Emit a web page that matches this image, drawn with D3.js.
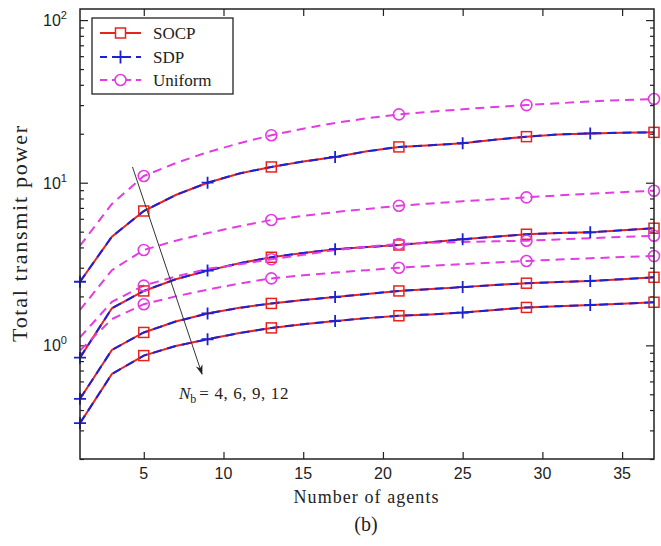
<!DOCTYPE html>
<html>
<head>
<meta charset="utf-8">
<script src="https://cdn.jsdelivr.net/npm/d3@7"></script>
<style>
  html, body { margin: 0; padding: 0; background: #fff; }
  svg { display: block; }
</style>
</head>
<body>
<script>
// ---------------- data ----------------
const agents = [1, 3, 5, 7, 9, 11, 13, 15, 17, 19, 21, 23, 25, 27, 29, 31, 33, 35, 37];
const nbLabels = ["Nb=4", "Nb=6", "Nb=9", "Nb=12"];

const socpNb4  = [2.46, 4.66, 6.7, 8.4, 10.0, 11.4, 12.5, 13.5, 14.4, 15.6, 16.6, 17.0, 17.5, 18.4, 19.2, 19.8, 20.1, 20.3, 20.4];
const socpNb6  = [0.84, 1.69, 2.16, 2.55, 2.88, 3.2, 3.48, 3.7, 3.90, 4.02, 4.14, 4.3, 4.49, 4.65, 4.82, 4.9, 4.95, 5.1, 5.25];
const socpNb9  = [0.469, 0.937, 1.20, 1.40, 1.57, 1.70, 1.81, 1.90, 1.98, 2.07, 2.16, 2.22, 2.28, 2.35, 2.41, 2.45, 2.49, 2.55, 2.62];
const socpNb12 = [0.332, 0.667, 0.865, 0.99, 1.09, 1.19, 1.28, 1.35, 1.41, 1.47, 1.52, 1.55, 1.59, 1.65, 1.71, 1.74, 1.77, 1.80, 1.84];

const sdpNb4  = [2.46, 4.66, 6.7, 8.4, 10.0, 11.4, 12.5, 13.5, 14.4, 15.6, 16.6, 17.0, 17.5, 18.4, 19.2, 19.8, 20.1, 20.3, 20.4];
const sdpNb6  = [0.84, 1.69, 2.16, 2.55, 2.88, 3.2, 3.48, 3.7, 3.90, 4.02, 4.14, 4.3, 4.49, 4.65, 4.82, 4.9, 4.95, 5.1, 5.25];
const sdpNb9  = [0.469, 0.937, 1.20, 1.40, 1.57, 1.70, 1.81, 1.90, 1.98, 2.07, 2.16, 2.22, 2.28, 2.35, 2.41, 2.45, 2.49, 2.55, 2.62];
const sdpNb12 = [0.332, 0.667, 0.865, 0.99, 1.09, 1.19, 1.28, 1.35, 1.41, 1.47, 1.52, 1.55, 1.59, 1.65, 1.71, 1.74, 1.77, 1.80, 1.84];

const uniNb4  = [4.1, 7.4, 11.0, 13.2, 15.4, 17.5, 19.6, 21.5, 23.3, 24.9, 26.3, 27.3, 28.3, 29.2, 30.0, 30.8, 31.6, 32.2, 32.7];
const uniNb6  = [1.65, 2.9, 3.86, 4.4, 4.9, 5.4, 5.90, 6.25, 6.6, 6.9, 7.22, 7.45, 7.7, 7.9, 8.13, 8.35, 8.55, 8.75, 8.93];
const uniNb9  = [1.12, 1.85, 2.33, 2.65, 2.95, 3.15, 3.38, 3.6, 3.85, 4.05, 4.20, 4.27, 4.32, 4.36, 4.40, 4.48, 4.56, 4.64, 4.72];
const uniNb12 = [0.93, 1.45, 1.79, 2.0, 2.2, 2.4, 2.58, 2.7, 2.8, 2.9, 3.00, 3.08, 3.16, 3.23, 3.30, 3.37, 3.43, 3.49, 3.54];

const xTicks = [5, 10, 15, 20, 25, 30, 35];
const yMajorTicks = [1, 10, 100];
const yTickExponents = ["0", "1", "2"];
const legendNames = ["SOCP", "SDP", "Uniform"];
const xLabel = "Number of agents";
const yLabel = "Total transmit power";
const caption = "(b)";

// marker positions (x values where markers are drawn)
const socpMarkerX = [5, 13, 21, 29, 37];
const sdpMarkerX = [1, 9, 17, 25, 33];
const uniMarkerX = [5, 13, 21, 29, 37];

// ---------------- layout ----------------
const W = 661, H = 546;
const L = 80, R = 654, T = 9, B = 459;
const RED = "#e8231e", BLUE = "#1a22d6", MAG = "#e23ce2";

const svg = d3.select("body").append("svg").attr("width", W).attr("height", H)
  .style("font-family", "'Liberation Serif', 'DejaVu Serif', serif");

const x = d3.scaleLinear().domain([1, 37]).range([L, R]);
const y = d3.scaleLog().domain([0.2, 117]).range([B, T]);

// minor ticks
const yMinor = [];
[0.1, 1, 10].forEach(d => { for (let k = 2; k <= 9; k++) { const v = d * k; if (v >= 0.2 && v <= 117) yMinor.push(v); } });

// axes ticks (inward)
function styleAxis(g) {
  g.select(".domain").remove();
  g.selectAll("line").attr("stroke", "#222").attr("stroke-width", 1.2);
  g.selectAll("text").remove();
}
svg.append("g").attr("transform", `translate(0,${B})`).call(d3.axisBottom(x).tickValues(xTicks).tickSize(-7)).call(styleAxis);
svg.append("g").attr("transform", `translate(0,${T})`).call(d3.axisTop(x).tickValues(xTicks).tickSize(-7)).call(styleAxis);
svg.append("g").attr("transform", `translate(${L},0)`).call(d3.axisLeft(y).tickValues(yMajorTicks).tickSize(-8)).call(styleAxis);
svg.append("g").attr("transform", `translate(${R},0)`).call(d3.axisRight(y).tickValues(yMajorTicks).tickSize(-8)).call(styleAxis);
svg.append("g").attr("transform", `translate(${L},0)`).call(d3.axisLeft(y).tickValues(yMinor).tickSize(-4)).call(styleAxis);
svg.append("g").attr("transform", `translate(${R},0)`).call(d3.axisRight(y).tickValues(yMinor).tickSize(-4)).call(styleAxis);

// tick labels
svg.append("g").selectAll("text").data(xTicks).join("text")
  .attr("x", d => x(d)).attr("y", B + 20)
  .attr("text-anchor", "middle")
  .style("font-family", "'Liberation Sans', Arial, sans-serif").style("font-size", "16px").attr("fill", "#222")
  .text(d => d);

const yl = svg.append("g").selectAll("text").data(yMajorTicks).join("text")
  .attr("x", 43).attr("y", d => y(d) + 6)
  .attr("text-anchor", "start")
  .style("font-family", "'Liberation Sans', Arial, sans-serif").style("font-size", "16px").attr("fill", "#222");
yl.append("tspan").text("10");
yl.append("tspan").attr("dy", -7).style("font-size", "11px").text((d, i) => yTickExponents[i]);

// clip
svg.append("clipPath").attr("id", "clip").append("rect").attr("x", L).attr("y", T).attr("width", R - L).attr("height", B - T);
const plot = svg.append("g").attr("clip-path", "url(#clip)");

const line = d3.line().x((d, i) => x(agents[i])).y(d => y(d));

const socp = [socpNb4, socpNb6, socpNb9, socpNb12];
const sdp = [sdpNb4, sdpNb6, sdpNb9, sdpNb12];
const uni = [uniNb4, uniNb6, uniNb9, uniNb12];

function markersFor(arr, mx) {
  return mx.map(v => ({ x: v, y: arr[agents.indexOf(v)] }));
}

// SOCP
socp.forEach(s => {
  plot.append("path").datum(s).attr("d", line).attr("fill", "none").attr("stroke", RED).attr("stroke-width", 2);
});
// SDP
sdp.forEach(s => {
  plot.append("path").datum(s).attr("d", line).attr("fill", "none").attr("stroke", BLUE).attr("stroke-width", 2).attr("stroke-dasharray", "9,6");
});
// Uniform
uni.forEach(s => {
  plot.append("path").datum(s).attr("d", line).attr("fill", "none").attr("stroke", MAG).attr("stroke-width", 2).attr("stroke-dasharray", "9,6");
});

// markers
const mk = svg.append("g");
socp.forEach(s => {
  mk.selectAll(null).data(markersFor(s, socpMarkerX)).join("rect")
    .attr("x", d => x(d.x) - 5).attr("y", d => y(d.y) - 5).attr("width", 10).attr("height", 10)
    .attr("fill", "none").attr("stroke", RED).attr("stroke-width", 1.5);
});
sdp.forEach(s => {
  mk.selectAll(null).data(markersFor(s, sdpMarkerX)).join("path")
    .attr("d", d => `M${x(d.x) - 6},${y(d.y)}H${x(d.x) + 6}M${x(d.x)},${y(d.y) - 6}V${y(d.y) + 6}`)
    .attr("stroke", BLUE).attr("stroke-width", 1.8);
});
uni.forEach(s => {
  mk.selectAll(null).data(markersFor(s, uniMarkerX)).join("circle")
    .attr("cx", d => x(d.x)).attr("cy", d => y(d.y)).attr("r", 5.5)
    .attr("fill", "none").attr("stroke", MAG).attr("stroke-width", 1.6);
});

// frame
svg.append("rect").attr("x", L).attr("y", T).attr("width", R - L).attr("height", B - T)
  .attr("fill", "none").attr("stroke", "#222").attr("stroke-width", 1.5);

// arrow annotation
svg.append("defs").append("marker").attr("id", "arrow").attr("viewBox", "0 0 10 10")
  .attr("refX", 9).attr("refY", 5).attr("markerWidth", 10).attr("markerHeight", 10).attr("orient", "auto")
  .append("path").attr("d", "M0,1.5 L10,5 L0,8.5 L3,5 Z").attr("fill", "#222");
svg.append("line").attr("x1", 132.5).attr("y1", 167).attr("x2", 202).attr("y2", 374)
  .attr("stroke", "#333").attr("stroke-width", 1).attr("marker-end", "url(#arrow)");

const ann = svg.append("text").attr("x", 179).attr("y", 399).style("font-size", "17px").attr("fill", "#222");
ann.append("tspan").style("font-style", "italic").text("N");
ann.append("tspan").attr("dy", 4).style("font-size", "12px").text("b");
ann.append("tspan").attr("dy", -4).attr("dx", 3).style("letter-spacing", "0.6px").text("= 4, 6, 9, 12");

// legend
const lg = svg.append("g");
lg.append("rect").attr("x", 92).attr("y", 18).attr("width", 141).attr("height", 76)
  .attr("fill", "#fff").attr("stroke", "#222").attr("stroke-width", 1.3);
const legRows = [33, 57, 80];
const legCols = [RED, BLUE, MAG];
const legDash = [null, "7,5", "7,5"];
legendNames.forEach((n, i) => {
  const yy = legRows[i];
  lg.append("line").attr("x1", 100).attr("x2", 141).attr("y1", yy).attr("y2", yy)
    .attr("stroke", legCols[i]).attr("stroke-width", 2).attr("stroke-dasharray", legDash[i]);
  if (i === 0) lg.append("rect").attr("x", 115.5).attr("y", yy - 5).attr("width", 10).attr("height", 10).attr("fill", "#fff").attr("stroke", RED).attr("stroke-width", 1.5);
  if (i === 1) lg.append("path").attr("d", `M114,${yy}H127M120.5,${yy - 6.5}V${yy + 6.5}`).attr("stroke", BLUE).attr("stroke-width", 1.8);
  if (i === 2) lg.append("circle").attr("cx", 120.5).attr("cy", yy).attr("r", 5.5).attr("fill", "#fff").attr("stroke", MAG).attr("stroke-width", 1.6);
  lg.append("text").attr("x", 153).attr("y", yy + 6).style("font-size", "17px").attr("fill", "#222").text(n);
});

// axis labels
svg.append("text").attr("transform", `translate(27,234) rotate(-90)`).attr("text-anchor", "middle")
  .attr("textLength", 216).attr("lengthAdjust", "spacing")
  .style("font-size", "22px").attr("fill", "#222").text(yLabel);
svg.append("text").attr("x", 366).attr("y", 503).attr("text-anchor", "middle")
  .attr("textLength", 145).attr("lengthAdjust", "spacing")
  .style("font-size", "18px").attr("fill", "#222").text(xLabel);
svg.append("text").attr("x", 366).attr("y", 531).attr("text-anchor", "middle")
  .style("font-size", "20px").attr("fill", "#222").text(caption);
</script>
</body>
</html>
